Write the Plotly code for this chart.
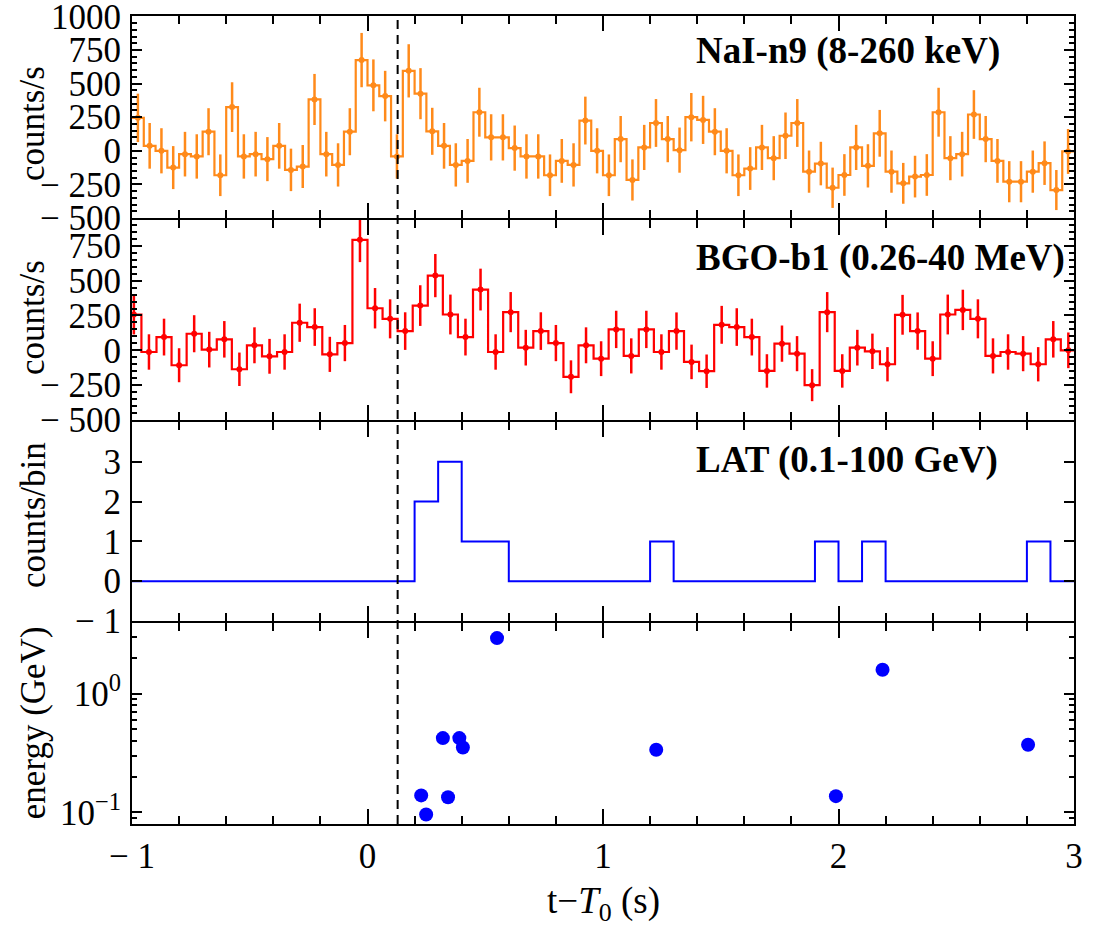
import plotly.graph_objects as go

# ---------------- data ----------------
T_LINE = 0.128  # dashed reference time

NAI_BIN = 0.05
nai_rate = [245, 37, 0, -125, -25, -42, 142, -182, 325, -42,
            -25, -62, 37, -142, -117, 382, -25, -105, 142, 675,
            487, 407, -42, 595, 425, 145, 37, -105, -75, 287,
            100, 100, 20, -42, -42, -182, -75, -105, 225, 0,
            -182, 87, -217, 25, 207, 87, 5, 250, 230, 142,
            0, -182, -132, 25, -55, 112, 207, -155, -95, -275,
            -180, 25, -112, 130, -155, -242, -192, -180, 287, -55,
            -25, 270, 87, -75, -230, -230, -155, -92, -292, -5]
nai_err = [180, 170, 168, 160, 166, 165, 175, 155, 185, 165,
           166, 164, 170, 158, 160, 190, 166, 161, 175, 202,
           193, 188, 165, 198, 190, 175, 170, 161, 163, 182,
           172, 172, 168, 165, 165, 155, 163, 161, 178, 168,
           155, 172, 153, 168, 178, 172, 168, 180, 179, 175,
           168, 155, 159, 168, 164, 173, 178, 157, 162, 150,
           155, 168, 161, 174, 157, 152, 155, 155, 182, 164,
           166, 181, 172, 163, 153, 153, 157, 162, 149, 167]

BGO_BIN = 0.064
BGO_K0 = -16
bgo_rate = [257, -12, 95, -107, 119, 5, 79, -136, 36, -43,
            -12, 198, 167, -29, 52, 793, 302, 226, 138, 321,
            536, 257, 95, 436, -12, 274, 19, 138, 52, -190,
            36, -60, 150, -40, 150, -12, 138, -83, -150, 183,
            167, 95, -148, 48, -24, -250, 274, -148, 19, -7,
            -100, 255, 138, -60, 257, 290, 226, -40, -12, -24,
            -100, 79, 0]
bgo_err = [143, 127, 132, 122, 133, 128, 131, 120, 129, 125,
           127, 137, 135, 126, 130, 160, 145, 140, 135, 146,
           155, 143, 132, 150, 127, 144, 128, 135, 130, 118,
           129, 125, 134, 126, 134, 127, 134, 124, 120, 136,
           135, 132, 120, 130, 126, 115, 144, 120, 128, 127,
           123, 143, 134, 125, 143, 145, 140, 126, 127, 126,
           123, 131, 128]

LAT_BIN = 0.1
LAT_START = -1.0
lat_counts = [0, 0, 0, 0, 0, 0, 0, 0, 0, 0,
              0, 0, 2, 3, 1, 1, 0, 0, 0, 0,
              0, 0, 1, 0, 0, 0, 0, 0, 0, 1,
              0, 1, 0, 0, 0, 0, 0, 0, 1, 0]

evt_time = [0.228, 0.249, 0.320, 0.342, 0.390, 0.405, 0.550, 1.226, 1.989, 2.187, 2.805]
evt_energy = [0.139, 0.096, 0.422, 0.134, 0.422, 0.352, 2.93, 0.337, 0.137, 1.585, 0.371]

# tick values / labels
x_ticks = [-1, 0, 1, 2, 3]
x_ticklabels = ["\u2212 1", "0", "1", "2", "3"]
y1_ticks = [-500, -250, 0, 250, 500, 750, 1000]
y1_ticklabels = ["\u2212 500", "\u2212 250", "0", "250", "500", "750", "1000"]
y2_ticks = [-500, -250, 0, 250, 500, 750]
y2_ticklabels = ["\u2212 500", "\u2212 250", "0", "250", "500", "750"]
y3_ticks = [-1, 0, 1, 2, 3]
y3_ticklabels = ["\u2212 1", "0", "1", "2", "3"]
y4_ticks = [0.1, 1]
y4_ticklabels = ["10<sup>\u22121</sup>", "10<sup>0</sup>"]

panel_titles = ["NaI-n9 (8-260 keV)", "BGO-b1 (0.26-40 MeV)", "LAT (0.1-100 GeV)"]
y_titles = ["counts/s", "counts/s", "counts/bin", "energy (GeV)"]
x_title = "t\u2212<i>T</i><sub>0</sub> (s)"

# ---------------- derived bin geometry ----------------
nai_centers = [-1 + NAI_BIN * (i + 0.5) for i in range(len(nai_rate))]
nai_edges = [-1 + NAI_BIN * i for i in range(len(nai_rate) + 1)]
bgo_centers = [BGO_BIN * (BGO_K0 + i + 0.5) for i in range(len(bgo_rate))]
bgo_edges = [BGO_BIN * (BGO_K0 + i) for i in range(len(bgo_rate) + 1)]
lat_edges = [LAT_START + LAT_BIN * i for i in range(len(lat_counts) + 1)]

ORANGE = "#ff8a1a"
RED = "#ff0000"
BLUE = "#0000ff"
FONT = "Liberation Serif, Times New Roman, Times, serif"

fig = go.Figure()

# NaI
fig.add_trace(go.Scatter(x=nai_edges, y=nai_rate + [nai_rate[-1]], mode="lines",
                         line=dict(shape="hv", color=ORANGE, width=2.2),
                         xaxis="x", yaxis="y", showlegend=False, hoverinfo="skip"))
fig.add_trace(go.Scatter(x=nai_centers, y=nai_rate, mode="markers",
                         marker=dict(color=ORANGE, size=6),
                         error_y=dict(type="data", array=nai_err, color=ORANGE, thickness=2.5, width=0),
                         xaxis="x", yaxis="y", showlegend=False))
# BGO
fig.add_trace(go.Scatter(x=bgo_edges, y=bgo_rate + [bgo_rate[-1]], mode="lines",
                         line=dict(shape="hv", color=RED, width=2.2),
                         xaxis="x2", yaxis="y2", showlegend=False, hoverinfo="skip"))
fig.add_trace(go.Scatter(x=bgo_centers, y=bgo_rate, mode="markers",
                         marker=dict(color=RED, size=6),
                         error_y=dict(type="data", array=bgo_err, color=RED, thickness=2.5, width=0),
                         xaxis="x2", yaxis="y2", showlegend=False))
# LAT counts
fig.add_trace(go.Scatter(x=lat_edges, y=lat_counts + [lat_counts[-1]], mode="lines",
                         line=dict(shape="hv", color=BLUE, width=2),
                         xaxis="x3", yaxis="y3", showlegend=False))
# LAT energies
fig.add_trace(go.Scatter(x=evt_time, y=evt_energy, mode="markers",
                         marker=dict(color=BLUE, size=14),
                         xaxis="x4", yaxis="y4", showlegend=False))

tickfont = dict(family=FONT, size=35, color="black")
common_x = dict(range=[-1, 3], showline=True, linewidth=2, linecolor="black", mirror="allticks",
                ticks="inside", ticklen=15, tickwidth=2, tickcolor="black",
                tickvals=x_ticks, ticktext=x_ticklabels, showgrid=False, zeroline=False,
                minor=dict(dtick=0.2, tick0=0, ticks="inside", ticklen=8, tickwidth=2, tickcolor="black"),
                tickfont=tickfont, ticklabeloverflow="allow", automargin=False)
common_y = dict(showline=True, linewidth=2, linecolor="black", mirror="allticks",
                ticks="inside", ticklen=10, tickwidth=2, tickcolor="black",
                showgrid=False, zeroline=False, tickfont=tickfont, ticklabelstandoff=2,
                ticklabeloverflow="allow", automargin=False)

# panel domains leave a 2px gap that the axis lines fill
domains = [[0.75, 1.0], [0.5, 0.7475], [0.2512, 0.4975], [0.0, 0.2488]]

layout = dict(
    width=1094, height=938,
    margin=dict(l=132, r=20, t=16, b=114, autoexpand=False),
    paper_bgcolor="white", plot_bgcolor="white",
    font=dict(family=FONT, color="black"),
    xaxis=dict(common_x, anchor="y", showticklabels=False),
    xaxis2=dict(common_x, anchor="y2", matches="x", showticklabels=False),
    xaxis3=dict(common_x, anchor="y3", matches="x", showticklabels=False),
    xaxis4=dict(common_x, anchor="y4", matches="x", showticklabels=True),
    yaxis=dict(common_y, domain=domains[0], anchor="x", range=[-500, 1003],
               tickvals=y1_ticks, ticktext=y1_ticklabels,
               minor=dict(dtick=50, tick0=0, ticks="inside", ticklen=5, tickwidth=1.5, tickcolor="black")),
    yaxis2=dict(common_y, domain=domains[1], anchor="x2", range=[-500, 935],
                tickvals=y2_ticks, ticktext=y2_ticklabels,
                minor=dict(dtick=50, tick0=0, ticks="inside", ticklen=5, tickwidth=1.5, tickcolor="black")),
    yaxis3=dict(common_y, domain=domains[2], anchor="x3", range=[-1, 4],
                tickvals=y3_ticks, ticktext=y3_ticklabels),
    yaxis4=dict(common_y, domain=domains[3], anchor="x4", type="log", range=[-1.0975, 0.594],
                tickvals=y4_ticks, ticktext=y4_ticklabels,
                minor=dict(tickmode="array",
                           tickvals=[0.09, 0.2, 0.3, 0.4, 0.5, 0.6, 0.7, 0.8, 0.9, 2, 3],
                           ticks="inside", ticklen=5, tickwidth=1.5, tickcolor="black")),
)
fig.update_layout(**layout)

# dashed vertical line across all panels
fig.add_shape(type="line", xref="x", yref="paper", x0=T_LINE, x1=T_LINE, y0=0, y1=1,
              line=dict(color="black", width=2, dash="9px,6px"))

# panel labels
title_y = [0.957, 0.700, 0.450]
for txt, yy in zip(panel_titles, title_y):
    fig.add_annotation(text="<b>" + txt + "</b>", xref="paper", yref="paper", x=0.597, y=yy,
                       xanchor="left", yanchor="middle", showarrow=False,
                       font=dict(family=FONT, size=37, color="black"))

# y-axis titles
ytitle_pos = [0.8676, 0.6275, 0.3824, 0.126]
for txt, yy in zip(y_titles, ytitle_pos):
    fig.add_annotation(text=txt, xref="paper", yref="paper", x=-0.1051, y=yy,
                       xanchor="center", yanchor="middle", textangle=-90, showarrow=False,
                       font=dict(family=FONT, size=35, color="black"))

# x-axis title
fig.add_annotation(text=x_title, xref="paper", yref="paper", x=0.5, y=-0.0978,
                   xanchor="center", yanchor="middle", showarrow=False,
                   font=dict(family=FONT, size=37, color="black"))

fig.write_html("out.html")
